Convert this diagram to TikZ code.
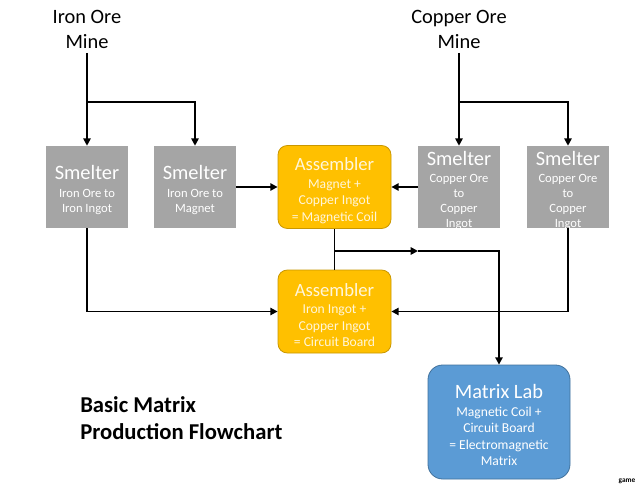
\documentclass[tikz,border=0pt]{standalone}
\usepackage{fontspec}
\setmainfont{Carlito}
\usetikzlibrary{arrows.meta}
\definecolor{smgray}{HTML}{A5A5A5}
\definecolor{asfill}{HTML}{FFC000}
\definecolor{asdraw}{HTML}{C99700}
\definecolor{astext}{HTML}{FFF6DA}
\definecolor{mlfill}{HTML}{5B9BD5}
\definecolor{mldraw}{HTML}{41719C}
\tikzset{
  smelterbox/.style={fill=smgray, minimum width=61.5pt, minimum height=61.5pt, inner sep=0pt},
  smtext/.style={align=center, text=white, inner sep=0pt, font=\fontsize{9.45}{11.6}\selectfont},
  cutext/.style={align=center, text=white, inner sep=0pt, font=\fontsize{9.45}{11.3}\selectfont},
  asmbox/.style={fill=asfill, draw=asdraw, line width=0.6pt, rounded corners=7pt, minimum width=84.75pt, minimum height=62.25pt, inner sep=0pt},
  astxt/.style={align=center, text=astext, inner sep=0pt, font=\fontsize{10.2}{12.3}\selectfont},
  labbox/.style={fill=mlfill, draw=mldraw, line width=0.6pt, rounded corners=11pt, minimum width=106.5pt, minimum height=85.5pt, inner sep=0pt},
  lbtxt/.style={align=center, text=white, inner sep=0pt, font=\fontsize{10.2}{12.3}\selectfont},
  minetext/.style={align=center, font=\fontsize{15.3}{18.75}\selectfont, inner sep=3pt},
  conn/.style={line width=1.3pt, black},
  arr/.style={conn, -{Triangle[length=5.5pt,width=5.5pt]}}
}
\begin{document}
\begin{tikzpicture}[x=0.75pt,y=-0.75pt]
\useasboundingbox[fill=white] (0,0) rectangle (640,492);

% mines
\node[minetext] (im) at (87,29.5) {Iron Ore\\Mine};
\node[minetext] (cm) at (459,29.5) {Copper Ore\\Mine};

% smelters
\node[smelterbox, label={[smtext, yshift=-2.25pt]center:{\fontsize{15.3}{15}\selectfont Smelter}\\[1.75pt]Iron Ore to\\Iron Ingot}] (s1) at (87,187) {};
\node[smelterbox, label={[smtext, yshift=-2.25pt]center:{\fontsize{15.3}{15}\selectfont Smelter}\\[1.75pt]Iron Ore to\\Magnet}] (s2) at (195,187) {};
\node[smelterbox, label={[cutext, yshift=-2.6pt]center:{\fontsize{15.3}{15}\selectfont Smelter}\\[1.25pt]Copper Ore\\to\\Copper\\Ingot}] (s3) at (459,187) {};
\node[smelterbox, label={[cutext, yshift=-2.6pt]center:{\fontsize{15.3}{15}\selectfont Smelter}\\[1.25pt]Copper Ore\\to\\Copper\\Ingot}] (s4) at (568,187) {};

% assemblers
\node[asmbox, label={[astxt, yshift=-2.6pt]center:{\fontsize{14}{14}\selectfont Assembler}\\[1pt]Magnet +\\Copper Ingot\\= Magnetic Coil}] (a1) at (334.5,187) {};
\node[asmbox, label={[astxt, yshift=-2.6pt]center:{\fontsize{14}{14}\selectfont Assembler}\\[1pt]Iron Ingot +\\Copper Ingot\\= Circuit Board}] (a2) at (334.5,311.5) {};

% matrix lab
\node[labbox, label={[lbtxt, yshift=-2.25pt]center:{\fontsize{15.3}{15}\selectfont Matrix Lab}\\[1pt]Magnetic Coil +\\Circuit Board\\= Electromagnetic\\Matrix}] (ml) at (499,422) {};

% title
\node[anchor=west, align=left, font=\bfseries\fontsize{17}{20.25}\selectfont, inner sep=0pt] (title) at (80,418.5) {Basic Matrix\\Production Flowchart};

% watermark
\node[font=\bfseries\fontsize{5.5}{6}\selectfont, inner sep=0pt] (wm) at (627,481) {game};

% junction coordinates
\coordinate (ib) at (87,102);
\coordinate (cb) at (459,102);
\coordinate (ab) at (334.5,251);
\coordinate (am) at (418,251);

% connectors
\draw[arr] (im) -- (s1);
\draw[arr] (ib) -| (s2);
\draw[arr] (cm) -- (s3);
\draw[arr] (cb) -| (s4);
\draw[arr] (s2) -- (a1);
\draw[arr] (s3) -- (a1);
\draw[arr] (s1) |- (a2);
\draw[arr] (s4) |- (a2);
\draw[conn] (a1) -- (a2);
\draw[arr] (ab) -- (am);
\draw[arr] (am) -| (ml);
\end{tikzpicture}
\end{document}
